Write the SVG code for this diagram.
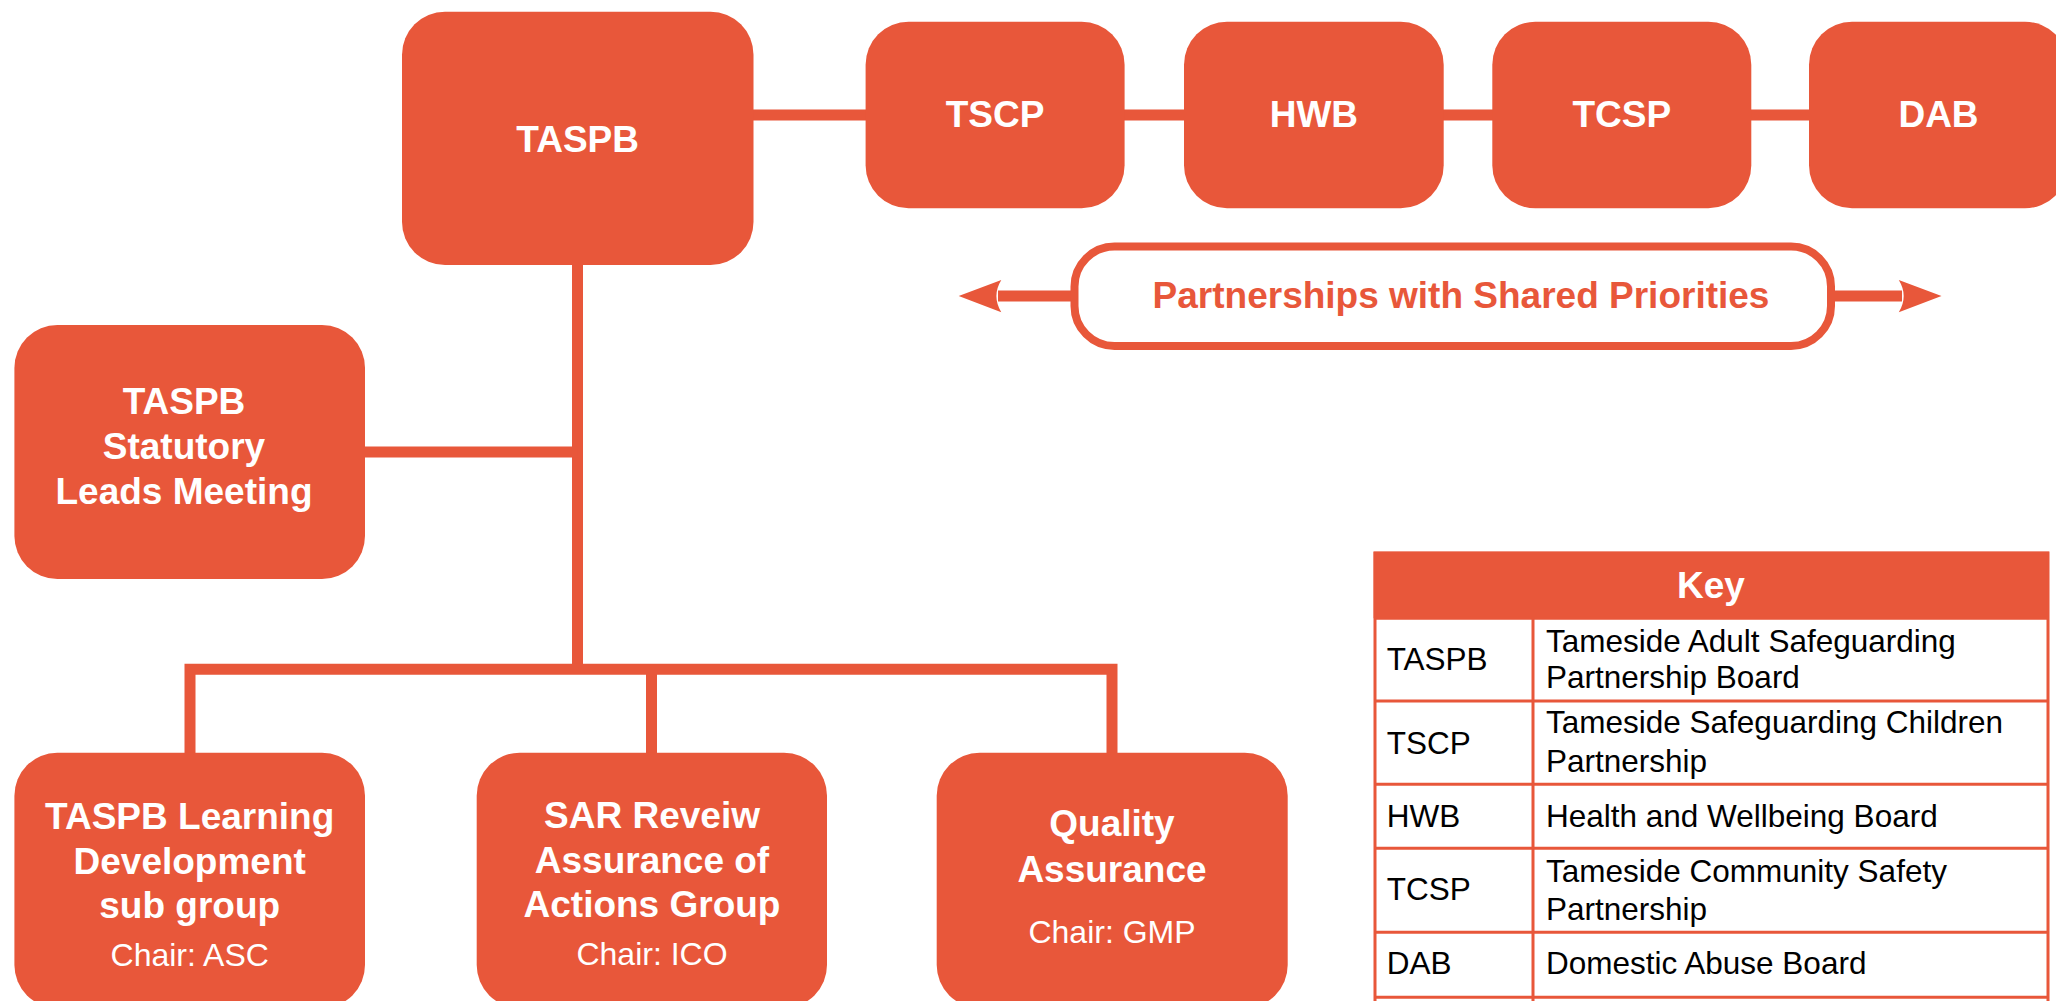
<svg xmlns="http://www.w3.org/2000/svg" width="2056" height="1001" viewBox="0 0 2056 1001">
<style>
.box{fill:#E8573A}
.bt{font-family:"Liberation Sans",Arial,Helvetica,sans-serif;font-weight:bold;font-size:37px;fill:#FFFFFF;text-anchor:middle}
.ct{font-family:"Liberation Sans",Arial,Helvetica,sans-serif;font-size:32px;fill:#FFFFFF;text-anchor:middle}
.ln{fill:none;stroke:#E8573A;stroke-width:11;stroke-linejoin:miter;stroke-linecap:butt}
.kt{font-family:"Liberation Sans",Arial,Helvetica,sans-serif;font-size:31.5px;fill:#000000}
.kl{fill:none;stroke:#E8573A;stroke-width:3}
</style>
<rect width="2056" height="1001" fill="#FFFFFF"/>
<g id="connectors">
<line class="ln" x1="753" y1="115" x2="1810" y2="115"/>
<line class="ln" x1="577.5" y1="265" x2="577.5" y2="669"/>
<line class="ln" x1="364" y1="452" x2="577.5" y2="452"/>
<path class="ln" stroke-width="10" d="M190,753 V669.3 H1112 V753"/>
<line class="ln" x1="651.5" y1="669" x2="651.5" y2="753" stroke-width="10"/>
<line class="ln" x1="998" y1="296" x2="1075" y2="296" stroke-width="10"/>
<line class="ln" x1="1830" y1="296" x2="1902" y2="296" stroke-width="10"/>
<path fill="#E8573A" d="M958.7,296 L1001.3,280 Q991.5,296 1001.3,312.3 Z"/>
<path fill="#E8573A" d="M1941.5,296 L1898.8,280 Q1908.6,296 1898.8,312.3 Z"/>
</g>
<g id="taspb">
<rect class="box" x="402" y="11.7" width="351.5" height="253.3" rx="43" ry="43"/>
<text class="bt" x="577.7" y="151.7">TASPB</text>
</g>
<g id="tscp">
<rect class="box" x="865.6" y="21.7" width="259" height="186.6" rx="43" ry="43"/>
<text class="bt" x="995" y="126.7">TSCP</text>
</g>
<g id="hwb">
<rect class="box" x="1184" y="21.7" width="259.7" height="186.6" rx="43" ry="43"/>
<text class="bt" x="1313.9" y="126.7">HWB</text>
</g>
<g id="tcsp">
<rect class="box" x="1492.3" y="21.7" width="259" height="186.6" rx="43" ry="43"/>
<text class="bt" x="1621.8" y="126.7">TCSP</text>
</g>
<g id="dab">
<rect class="box" x="1809" y="21.7" width="259" height="186.6" rx="43" ry="43"/>
<text class="bt" x="1938.5" y="126.7">DAB</text>
</g>
<g id="partnerships">
<rect x="1074.5" y="246.5" width="756.5" height="99.5" rx="40" ry="40" fill="#FFFFFF" stroke="#E8573A" stroke-width="8"/>
<text class="bt" x="1461" y="308.3" style="fill:#E8573A">Partnerships with Shared Priorities</text>
</g>
<g id="statutory">
<rect class="box" x="14.4" y="325" width="350.6" height="254" rx="43" ry="43"/>
<text class="bt" x="184" y="414">TASPB</text>
<text class="bt" x="184" y="459">Statutory</text>
<text class="bt" x="184" y="504">Leads Meeting</text>
</g>
<g id="learning">
<rect class="box" x="14.4" y="752.7" width="350.6" height="255.3" rx="43" ry="43"/>
<text class="bt" x="189.7" y="829">TASPB Learning</text>
<text class="bt" x="189.7" y="873.5">Development</text>
<text class="bt" x="189.7" y="918">sub group</text>
<text class="ct" x="189.7" y="965.5">Chair: ASC</text>
</g>
<g id="sar">
<rect class="box" x="476.7" y="752.7" width="350.3" height="255.3" rx="43" ry="43"/>
<text class="bt" x="652" y="828.3">SAR Reveiw</text>
<text class="bt" x="652" y="872.7">Assurance of</text>
<text class="bt" x="652" y="916.7">Actions Group</text>
<text class="ct" x="652" y="965">Chair: ICO</text>
</g>
<g id="quality">
<rect class="box" x="936.7" y="752.7" width="351" height="255.3" rx="43" ry="43"/>
<text class="bt" x="1112" y="836">Quality</text>
<text class="bt" x="1112" y="881.7">Assurance</text>
<text class="ct" x="1112" y="943.3">Chair: GMP</text>
</g>
<g id="key">
<rect x="1373.6" y="551.7" width="675.4" height="66.6" fill="#E8573A"/>
<text class="bt" x="1711" y="598.3">Key</text>
<rect class="kl" x="1375" y="553" width="673" height="460"/>
<line class="kl" x1="1375" y1="618.3" x2="2048" y2="618.3"/>
<line class="kl" x1="1375" y1="701" x2="2048" y2="701"/>
<line class="kl" x1="1375" y1="784.3" x2="2048" y2="784.3"/>
<line class="kl" x1="1375" y1="848.3" x2="2048" y2="848.3"/>
<line class="kl" x1="1375" y1="932.3" x2="2048" y2="932.3"/>
<line class="kl" x1="1375" y1="997.3" x2="2048" y2="997.3"/>
<line class="kl" x1="1533" y1="618.3" x2="1533" y2="1013"/>
<text class="kt" x="1386.7" y="670">TASPB</text>
<text class="kt" x="1546" y="651.7">Tameside Adult Safeguarding</text>
<text class="kt" x="1546" y="688.3">Partnership Board</text>
<text class="kt" x="1386.7" y="754">TSCP</text>
<text class="kt" x="1546" y="733.3">Tameside Safeguarding Children</text>
<text class="kt" x="1546" y="771.7">Partnership</text>
<text class="kt" x="1386.7" y="826.7">HWB</text>
<text class="kt" x="1546" y="826.7">Health and Wellbeing Board</text>
<text class="kt" x="1386.7" y="900">TCSP</text>
<text class="kt" x="1546" y="881.7">Tameside Community Safety</text>
<text class="kt" x="1546" y="920">Partnership</text>
<text class="kt" x="1386.7" y="974">DAB</text>
<text class="kt" x="1546" y="974">Domestic Abuse Board</text>
</g>
</svg>
